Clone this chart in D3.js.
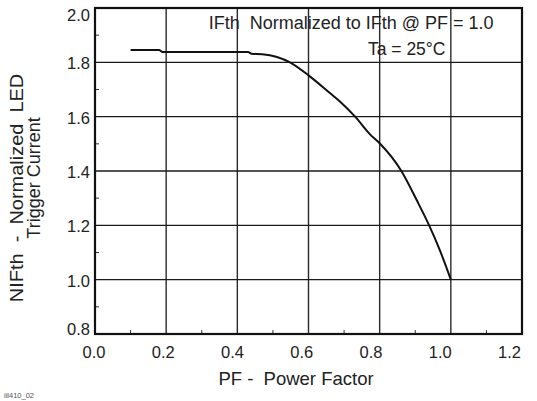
<!DOCTYPE html>
<html>
<head>
<meta charset="utf-8">
<script src="https://cdn.jsdelivr.net/npm/d3@7"></script>
<style>
  body { margin: 0; background: #fff; }
  text { font-family: Arial, "Liberation Sans", sans-serif; fill: #222; white-space: pre; }
</style>
</head>
<body>
<div id="chart"></div>
<script>
// curve
const pf = [0.1, 0.18, 0.19, 0.43, 0.44, 0.47, 0.548, 0.6, 0.661, 0.689, 0.731, 0.773, 0.8, 0.861, 0.904, 0.939, 0.969, 1.0];
const nifth = [1.845, 1.845, 1.838, 1.838, 1.832, 1.83, 1.80, 1.752, 1.686, 1.655, 1.60, 1.535, 1.502, 1.40, 1.293, 1.20, 1.109, 1.0];

const xTicks = [0.0, 0.2, 0.4, 0.6, 0.8, 1.0, 1.2];
const yTicks = [0.8, 1.0, 1.2, 1.4, 1.6, 1.8, 2.0];
const xMinor = [0.1, 0.3, 0.5, 0.7, 0.9, 1.1];
const yMinor = [0.9, 1.1, 1.3, 1.5, 1.7, 1.9];

const W = 537, H = 401;
const margin = { top: 8, right: 15, bottom: 67, left: 95 },
    width = W - margin.left - margin.right,
    height = H - margin.top - margin.bottom;

const svg = d3.select("#chart")
    .append("svg")
    .attr("width", W)
    .attr("height", H);

const g = svg.append("g")
    .attr("transform", `translate(${margin.left},${margin.top})`);

const x = d3.scaleLinear().domain([0, 1.2]).range([0, width]);
const y = d3.scaleLinear().domain([0.8, 2.0]).range([height, 0]);
// tick labels in the scan sit on a slightly tighter spacing than the grid
const xLab = d3.scaleLinear().domain([0, 1.2]).range([-1.5, width - 13]);

// grid
g.append("g")
    .selectAll("line")
    .data(xTicks.slice(1, -1))
    .join("line")
    .attr("x1", d => x(d)).attr("x2", d => x(d))
    .attr("y1", 0).attr("y2", height)
    .attr("stroke", "#2a2a2a").attr("stroke-width", 1.4);

g.append("g")
    .selectAll("line")
    .data(yTicks.slice(1, -1))
    .join("line")
    .attr("y1", d => y(d)).attr("y2", d => y(d))
    .attr("x1", 0).attr("x2", width)
    .attr("stroke", "#1a1a1a").attr("stroke-width", 1.4);

// minor ticks inside
g.append("g")
    .selectAll("line")
    .data(xMinor)
    .join("line")
    .attr("x1", d => x(d)).attr("x2", d => x(d))
    .attr("y1", height).attr("y2", height - 4)
    .attr("stroke", "#333").attr("stroke-width", 1);

g.append("g")
    .selectAll("line")
    .data(yMinor)
    .join("line")
    .attr("y1", d => y(d)).attr("y2", d => y(d))
    .attr("x1", 0).attr("x2", 4)
    .attr("stroke", "#333").attr("stroke-width", 1);

// frame
g.append("rect")
    .attr("width", width).attr("height", height)
    .attr("fill", "none").attr("stroke", "#111").attr("stroke-width", 2.2);

// tick labels
const xAxis = g.append("g")
    .attr("transform", `translate(0,${height})`)
    .call(d3.axisBottom(xLab).tickValues(xTicks).tickSize(0).tickPadding(12).tickFormat(d3.format(".1f")));
const yAxis = g.append("g")
    .call(d3.axisLeft(y).tickValues(yTicks).tickSize(0).tickPadding(5).tickFormat(d3.format(".1f")));
[xAxis, yAxis].forEach(a => {
    a.select(".domain").remove();
    a.selectAll("text").attr("font-size", 16.5).attr("fill", "#222")
        .style("font-family", 'Arial, "Liberation Sans", sans-serif');
});
// end labels pushed inside the frame, as in the scan
yAxis.selectAll(".tick text").attr("dy", d => d === 2.0 ? "0.75em" : d === 0.8 ? "0" : "0.4em");

// curve
const data = pf.map((d, i) => ({ pf: d, v: nifth[i] }));
g.append("path")
    .datum(data)
    .attr("fill", "none")
    .attr("stroke", "#111")
    .attr("stroke-width", 2)
    .attr("stroke-linejoin", "round")
    .attr("d", d3.line().curve(d3.curveMonotoneX).x(d => x(d.pf)).y(d => y(d.v)));

// annotation
g.append("text")
    .attr("x", x(1.12)).attr("y", 21)
    .attr("text-anchor", "end")
    .attr("font-size", 18)
    .text("IFth  Normalized to IFth @ PF = 1.0");
g.append("text")
    .attr("x", x(0.985)).attr("y", 47)
    .attr("text-anchor", "end")
    .attr("font-size", 17.5)
    .text("Ta = 25°C");

// axis titles
svg.append("text")
    .attr("x", 296).attr("y", 385)
    .attr("text-anchor", "middle")
    .attr("font-size", 18.5)
    .text("PF -  Power Factor");

// first line of the y title is stretched along its length in the scan
svg.append("text")
    .attr("transform", "translate(23,188) rotate(-90) scale(1.11,1)")
    .attr("text-anchor", "middle")
    .attr("font-size", 18)
    .text("NIFth  -  Normalized  LED");
svg.append("text")
    .attr("transform", "translate(40,178) rotate(-90)")
    .attr("text-anchor", "middle")
    .attr("font-size", 18)
    .text("Trigger Current");

svg.append("text")
    .attr("x", 4).attr("y", 398)
    .attr("font-size", 7.5)
    .style("fill", "#555")
    .text("iil410_02");
</script>
</body>
</html>
